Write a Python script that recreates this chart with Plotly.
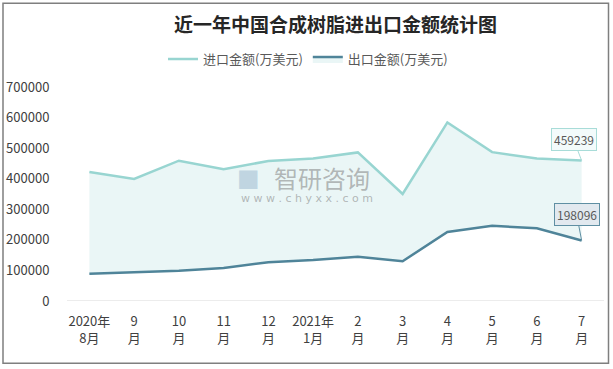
import plotly.graph_objects as go

categories = ["2020年<br>8月", "9<br>月", "10<br>月", "11<br>月", "12<br>月", "2021年<br>1月",
              "2<br>月", "3<br>月", "4<br>月", "5<br>月", "6<br>月", "7<br>月"]
import_values = [422000, 399000, 459000, 431000, 458000, 466000, 486000, 350000, 584000, 487000, 466000, 459239]
export_values = [89000, 94000, 99000, 108000, 127000, 134000, 145000, 130000, 226000, 246000, 238000, 198096]
y_ticks = [0, 100000, 200000, 300000, 400000, 500000, 600000, 700000]

import_name = "进口金额(万美元)"
export_name = "出口金额(万美元)"
title_text = "近一年中国合成树脂进出口金额统计图"

IMP_COLOR = "#98d5d1"
EXP_COLOR = "#4f8499"
FONT = "Noto Sans CJK SC"

fig = go.Figure()
fig.add_trace(go.Scatter(
    x=categories, y=import_values, name=import_name, mode="lines",
    line=dict(color=IMP_COLOR, width=2.5), hoverinfo="skip"))
fig.add_trace(go.Scatter(
    x=categories, y=export_values, name=export_name, mode="lines",
    line=dict(color=EXP_COLOR, width=2.5), fill="tonexty", fillcolor="#eaf6f6",
    hoverinfo="skip"))

W, H = 613, 369
ml, mr, mt, mb = 67, 9, 87, 67.5
pw = W - ml - mr
ph = H - mt - mb

def px_x(p):
    return (p - ml) / pw

def px_y(p):
    return (H - mb - p) / ph

fig.add_shape(type="rect", xref="paper", yref="paper",
              x0=px_x(3), x1=px_x(608.5), y0=px_y(364), y1=px_y(3),
              line=dict(color="#7f7f7f", width=1.5), fillcolor="rgba(0,0,0,0)", layer="above")

# zero baseline
fig.add_shape(type="line", xref="paper", yref="y", x0=0, x1=1, y0=0, y1=0,
              line=dict(color="#d9d9d9", width=1), layer="below")

# callouts
fig.add_annotation(x=categories[-1], y=import_values[-1], text=f"{import_values[-1]}",
                   showarrow=True, arrowhead=0, arrowwidth=1, arrowcolor="#a8dcd8",
                   ax=-8, ay=-21, bgcolor="#f3fbfb", bordercolor="#a8dcd8", borderwidth=1,
                   borderpad=2, font=dict(family=FONT, size=12, color="#595959"))
fig.add_annotation(x=categories[-1], y=export_values[-1], text=f"{export_values[-1]}",
                   showarrow=True, arrowhead=0, arrowwidth=1, arrowcolor="#5f8fa3",
                   ax=-5, ay=-26, bgcolor="#e2e9ef", bordercolor="#5f8fa3", borderwidth=1,
                   borderpad=2, font=dict(family=FONT, size=12, color="#595959"))

# watermark
fig.add_annotation(xref="paper", yref="paper", x=px_x(322), y=px_y(178), text="智研咨询",
                   showarrow=False, font=dict(family=FONT, size=24, color="rgba(128,128,128,0.55)"))
fig.add_annotation(xref="paper", yref="paper", x=px_x(307), y=px_y(199),
                   text="w w w . c h y x x . c o m", showarrow=False,
                   font=dict(family="DejaVu Sans", size=11, color="rgba(128,128,128,0.55)"))
fig.add_annotation(xref="paper", yref="paper", x=px_x(248), y=px_y(178), text="■",
                   showarrow=False, font=dict(family="DejaVu Sans", size=24, color="rgba(150,180,205,0.5)"))

fig.update_layout(
    width=W, height=H,
    margin=dict(l=ml, r=mr, t=mt, b=mb, autoexpand=False),
    paper_bgcolor="white", plot_bgcolor="white",
    title=dict(text=f"<b>{title_text}</b>", x=0.5, xref="paper", xanchor="center",
               y=1 - 25 / H, yanchor="middle",
               font=dict(family=FONT, size=19, color="#262626")),
    legend=dict(orientation="h", x=px_x(308), xanchor="center", y=px_y(59), yanchor="middle",
                traceorder="normal",
                font=dict(family=FONT, size=13, color="#595959"), itemwidth=30,
                bgcolor="rgba(0,0,0,0)"),
    showlegend=True,
    xaxis=dict(type="category", range=[-0.5, len(categories) - 0.5],
               showgrid=False, zeroline=False, showline=False,
               ticks="outside", ticklen=8, tickcolor="rgba(0,0,0,0)",
               tickfont=dict(family=FONT, size=13, color="#404040"), fixedrange=True),
    yaxis=dict(range=[0, 700000], tickvals=y_ticks, tickformat="d", showgrid=False,
               zeroline=False, showline=False, ticks="outside", ticklen=14,
               tickcolor="rgba(0,0,0,0)",
               tickfont=dict(family=FONT, size=13, color="#404040")),
)

fig.write_html("out.html", config={"displayModeBar": False},
               post_script="document.body.style.margin='0';document.body.style.overflow='hidden';")
